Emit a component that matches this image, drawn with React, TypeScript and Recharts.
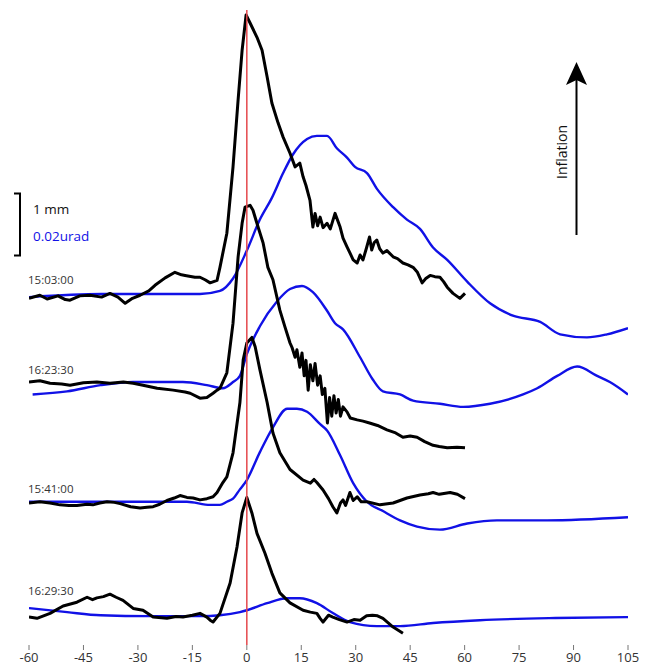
import React from "react";
import { ComposedChart, Line, XAxis, YAxis, ReferenceLine } from "recharts";

// ---------- data ----------
const xTicks = [-60, -45, -30, -15, 0, 15, 30, 45, 60, 75, 90, 105];
const traceLabels = ["15:03:00", "16:23:30", "15:41:00", "16:29:30"];
// vertical offsets of each trace (mm)
const traceOffsetsMm = [5.53, 4.16, 2.23, 0.45];
// 1 mm on the chart = 0.02 urad = 20 nrad
const NRAD_PER_MM = 20;

// displacement (mm), [seconds, mm]
const disp1: [number, number][] = [
  [-60, -0.02], [-57, 0.03], [-55, -0.03], [-52, 0.02], [-50, -0.04], [-48.7, -0.05], [-46, 0.02], [-43.2, 0.03],
  [-40, 0.0], [-37.7, 0.06], [-35.5, 0.0], [-33.5, -0.1], [-31.5, -0.02], [-29.4, 0.03], [-27, 0.1], [-25.3, 0.19],
  [-22.5, 0.31], [-19.8, 0.4], [-18, 0.36], [-17, 0.35], [-14.3, 0.32], [-12.9, 0.32], [-11.5, 0.28], [-10.1, 0.23],
  [-8.2, 0.27], [-7.4, 0.48], [-5.5, 1.03], [-3.8, 2.1], [-2.4, 3.18], [-1.3, 3.98], [-0.2, 4.55], [0.9, 4.42],
  [2.8, 4.19], [4.2, 3.98], [5.6, 3.55], [6.9, 3.13], [8.6, 2.81], [10, 2.58], [11.9, 2.32], [13.3, 2.1],
  [14.6, 2.16], [15.5, 1.94], [16.3, 1.8], [17.4, 1.56], [18.2, 1.13], [18.8, 1.35], [19.5, 1.15], [20.2, 1.29],
  [21, 1.12], [22.1, 1.19], [23, 1.1], [24.3, 1.35], [25.7, 1.13], [26.5, 0.95], [27.6, 0.81], [28.5, 0.7],
  [29.3, 0.6], [30.4, 0.55], [31.2, 0.68], [32, 0.6], [33, 0.8], [33.8, 0.97], [34.4, 0.76], [35.1, 0.88],
  [35.8, 0.92], [36.6, 0.78], [37.5, 0.71], [38.6, 0.75], [40.3, 0.65], [41.5, 0.62], [43, 0.55], [44.4, 0.52],
  [45.8, 0.48], [47, 0.4], [48.3, 0.23], [49.3, 0.3], [50.5, 0.35], [51.8, 0.33], [53.2, 0.32], [54.2, 0.25],
  [55.2, 0.16], [56.8, 0.06], [58.7, -0.02], [60.1, 0.06],
];
const disp2: [number, number][] = [
  [-60, 0], [-57, 0.02], [-54.2, -0.02], [-51, -0.03], [-48.7, -0.05], [-45, -0.01], [-41.3, 0], [-37.7, -0.02],
  [-34, 0.0], [-31.3, -0.02], [-28.6, -0.05], [-24.7, -0.1], [-20.3, -0.13], [-17, -0.16], [-15.6, -0.18],
  [-12.9, -0.26], [-11, -0.25], [-9.3, -0.18], [-8.2, -0.13], [-7.4, -0.1], [-5.5, 0.15], [-3.8, 0.95],
  [-2.4, 2.02], [-1.3, 2.56], [-0.5, 2.82], [0.9, 2.85], [1.7, 2.77], [3.1, 2.5], [4.5, 2.24], [5.8, 1.85],
  [7.2, 1.65], [9.1, 1.16], [10.5, 0.89], [11.9, 0.63], [12.5, 0.55], [13.3, 0.4], [13.8, 0.52], [14.6, 0.24],
  [15.2, 0.47], [15.8, 0.1], [16.3, 0.35], [16.9, -0.13], [17.5, 0.28], [18.2, 0.02], [18.8, 0.3], [19.5, -0.05],
  [20.2, 0.1], [20.8, -0.2], [21.5, -0.1], [22.2, -0.66], [22.8, -0.25], [23.4, -0.55], [24, -0.22], [24.6, -0.5],
  [25.2, -0.28], [25.8, -0.55], [26.5, -0.4], [27.6, -0.48], [28.5, -0.58], [30.4, -0.61], [32, -0.63],
  [33.8, -0.66], [36, -0.7], [38.6, -0.77], [41, -0.82], [43, -0.89], [45, -0.87], [46.9, -0.89], [49, -0.96],
  [51.3, -1.02], [53, -1.04], [55.2, -1.06], [57.9, -1.05], [60.1, -1.06],
];
const disp3: [number, number][] = [
  [-60, -0.02], [-57, 0.0], [-54.2, -0.02], [-51.5, -0.05], [-49, -0.06], [-46.8, -0.06], [-44, -0.04],
  [-42.4, -0.05], [-40.5, -0.02], [-38.5, 0], [-36.5, -0.01], [-34.9, -0.03], [-32, -0.08], [-29.4, -0.1],
  [-27.5, -0.09], [-25.8, -0.08], [-24, -0.04], [-22, 0.02], [-20, 0.06], [-18.4, 0.1], [-16.5, 0.07],
  [-14.8, 0.06], [-12.9, 0.03], [-11, 0.05], [-9.3, 0.08], [-8.2, 0.15], [-6.6, 0.31], [-5.5, 0.4], [-3.8, 0.79],
  [-1.9, 1.6], [-1, 2.29], [0, 2.56], [1.4, 2.65], [2.3, 2.5], [3.6, 2.13], [5.6, 1.6], [7.2, 1.11], [9.1, 0.79],
  [11.9, 0.52], [15.5, 0.35], [17.5, 0.3], [18.5, 0.36], [19.3, 0.31], [21, 0.19], [22.5, 0.05], [23.7, -0.08],
  [24.8, -0.18], [25.8, -0.02], [26.5, 0.03], [27.2, -0.06], [28.4, 0.15], [29.3, 0.02], [30.4, 0.08], [31.5, 0.0],
  [33.1, 0], [36.7, -0.05], [40.3, -0.02], [44.1, 0.06], [47.7, 0.11], [50, 0.13], [51.3, 0.15], [53, 0.12],
  [56, 0.15], [58, 0.12], [60.1, 0.05],
];
const disp4: [number, number][] = [
  [-60, -0.08], [-57.8, -0.1], [-56, -0.06], [-54.2, -0.02], [-50.6, 0.1], [-46.8, 0.16], [-44, 0.24],
  [-42.5, 0.2], [-41.3, 0.23], [-39.5, 0.25], [-37.7, 0.29], [-36, 0.24], [-34.1, 0.19], [-31.3, 0.06],
  [-28.6, 0.03], [-25.8, -0.08], [-22, -0.1], [-19.5, -0.07], [-17.6, -0.08], [-15, -0.05], [-12.9, -0.02],
  [-11, -0.08], [-10.1, -0.13], [-9.3, -0.16], [-7.4, -0.02], [-4.6, 0.47], [-2.7, 1.05], [-1.3, 1.6], [0, 1.85],
  [1.4, 1.6], [2.8, 1.27], [5, 0.95], [6.9, 0.63], [9.1, 0.31], [11.9, 0.15], [15.5, 0.03], [17.5, 0.0],
  [19.3, -0.02], [20.2, -0.1], [21, -0.16], [22.5, -0.05], [23.7, -0.08], [25.5, -0.12], [27.6, -0.16],
  [29.5, -0.12], [31.2, -0.13], [33, -0.06], [34.6, -0.05], [36, -0.06], [37.5, -0.1], [40.3, -0.24], [43, -0.34],
];

// tilt (nrad), [seconds, nrad]
const tilt1: [number, number][] = [
  [-60, 0], [-40, 1], [-25, 1], [-12.9, 1], [-7.4, 2], [-3.8, 6], [0, 15], [3.6, 25], [6.9, 32], [10, 40],
  [12.7, 46], [16.6, 51], [19.3, 52], [22.1, 52], [24.8, 48], [27.6, 45], [29.8, 42], [33.1, 40], [35.8, 35],
  [40.3, 29], [44.1, 25], [47.7, 22], [51.3, 16], [55.2, 12], [60.7, 5], [67, -2], [73.3, -6], [80.8, -8],
  [86.3, -12], [93.7, -13], [99.2, -12], [105, -10],
];
const tilt2: [number, number][] = [
  [-59, -4], [-49.5, -3], [-40.3, -1], [-31.3, 0], [-23.9, 0], [-17.6, 0], [-11, -1], [-6.6, -2], [-3.8, 0],
  [-1.9, 2], [0, 9], [3.6, 18], [8.3, 26], [11.9, 30], [15.2, 31], [18.2, 29], [22.1, 23], [24.3, 19], [26.5, 17],
  [31.2, 8], [34.6, 1], [37.5, -3], [42.2, -4], [45.8, -6], [53.2, -7], [59.6, -8], [67, -7], [76.1, -4], [80, -2],
  [85.5, 2], [91, 5], [96.5, 2], [100, 0], [105, -4],
];
const tilt3: [number, number][] = [
  [-60, 0], [-40, 0], [-24, 0], [-16.5, 0], [-10.1, -1], [-7.4, -1], [-5.5, 0], [-3.8, 1], [-1.9, 4], [0, 7],
  [3.6, 16], [7.2, 24], [11.1, 30], [13.8, 30], [16.6, 29], [20.2, 25], [22.1, 23], [25.7, 15], [29.3, 6],
  [33.1, 0], [37.5, -3], [42.2, -6], [46.9, -8], [53.2, -9], [60.7, -7], [68.9, -6], [82.7, -6], [105, -5],
];
const tilt4: [number, number][] = [
  [-60, 1.3], [-49.5, 0], [-40.3, -1], [-26.7, -1.3], [-12.9, -1.3], [-7.4, -1], [-1.9, 0], [0, 0.6], [5.6, 2.9],
  [11.1, 4.5], [14.6, 4.5], [19.3, 2.9], [23.7, -0.3], [28.4, -3.2], [35.8, -4.5], [42.2, -4.5], [51.3, -3.5],
  [64.2, -2.6], [85, -1.9], [105, -1.6],
];

const dispSeries = [disp1, disp2, disp3, disp4];
const tiltSeries = [tilt1, tilt2, tilt3, tilt4];

// ---------- layout ----------
const W = 646;
const H = 666;
const M = { top: 10, right: 18, bottom: 0, left: 29 };
const X_AXIS_H = 21;
const X_DOMAIN: [number, number] = [-60, 105];
const Y_DOMAIN: [number, number] = [-0.08, 10.16];
const PLOT_TOP = M.top;
const PLOT_BOTTOM = H - M.bottom - X_AXIS_H;
const yPx = (v: number) =>
  PLOT_TOP + ((Y_DOMAIN[1] - v) / (Y_DOMAIN[1] - Y_DOMAIN[0])) * (PLOT_BOTTOM - PLOT_TOP);

const labelBaselineOffsetPx = [-13, -8, -9, -17];
const SCALE_BAR_TOP_MM = 7.2;

const BLUE = "#1111e6";
const FONT = "'Open Sans', 'Noto Sans', sans-serif";

const dispData = dispSeries.map((s, i) => s.map(([t, v]) => ({ t, y: v + traceOffsetsMm[i] })));
const tiltData = tiltSeries.map((s, i) =>
  s.map(([t, n]) => ({ t, y: n / NRAD_PER_MM + traceOffsetsMm[i] }))
);

export default function App() {
  const barTop = yPx(SCALE_BAR_TOP_MM);
  const barBottom = yPx(SCALE_BAR_TOP_MM - 1);
  return (
    <div style={{ position: "relative", width: W, height: H, fontFamily: FONT }}>
      <style>{"body{margin:0}"}</style>
      <ComposedChart width={W} height={H} margin={M}>
        <XAxis
          dataKey="t"
          type="number"
          domain={X_DOMAIN}
          ticks={xTicks}
          allowDataOverflow
          axisLine={false}
          tickSize={5}
          tickMargin={3}
          height={X_AXIS_H}
          tickLine={{ stroke: "#777", strokeWidth: 1 }}
          tick={{ fill: "#333", fontSize: 13, fontFamily: FONT }}
          interval={0}
        />
        <YAxis type="number" domain={Y_DOMAIN} hide allowDataOverflow />
        {tiltData.map((d, i) => (
          <Line
            key={"tilt" + i}
            data={d}
            dataKey="y"
            type="monotone"
            stroke={BLUE}
            strokeWidth={2.4}
            dot={false}
            activeDot={false}
            isAnimationActive={false}
          />
        ))}
        {dispData.map((d, i) => (
          <Line
            key={"disp" + i}
            data={d}
            dataKey="y"
            type="linear"
            stroke="#000"
            strokeWidth={3}
            strokeLinejoin="round"
            dot={false}
            activeDot={false}
            isAnimationActive={false}
          />
        ))}
        <ReferenceLine x={0} stroke="#e5484d" strokeWidth={1.5} />
      </ComposedChart>
      <svg
        width={W}
        height={H}
        style={{ position: "absolute", left: 0, top: 0, pointerEvents: "none" }}
      >
        {/* scale bar */}
        <path
          d={`M14 ${barTop} H20 V${barBottom} H14`}
          fill="none"
          stroke="#000"
          strokeWidth={2}
        />
        <text x={33} y={barTop + 20} fontSize={13.5} fill="#111" fontFamily={FONT}>
          1 mm
        </text>
        <text x={33} y={barTop + 47} fontSize={13.5} fill={BLUE} fontFamily={FONT}>
          0.02urad
        </text>
        {/* trace labels */}
        {traceLabels.map((lab, i) => (
          <text
            key={lab}
            x={28}
            y={yPx(traceOffsetsMm[i]) + labelBaselineOffsetPx[i]}
            fontSize={11.5}
            fill="#333"
            fontFamily={FONT}
          >
            {lab}
          </text>
        ))}
        {/* inflation arrow */}
        <line x1={576.5} y1={235} x2={576.5} y2={78} stroke="#000" strokeWidth={2} />
        <polygon points="576.5,62 587,85 576.5,80 566,85" fill="#000" />
        <text
          x={563}
          y={152}
          fontSize={14}
          fill="#111"
          fontFamily={FONT}
          textAnchor="middle"
          dominantBaseline="middle"
          transform="rotate(-90 563 152)"
        >
          Inflation
        </text>
      </svg>
    </div>
  );
}
